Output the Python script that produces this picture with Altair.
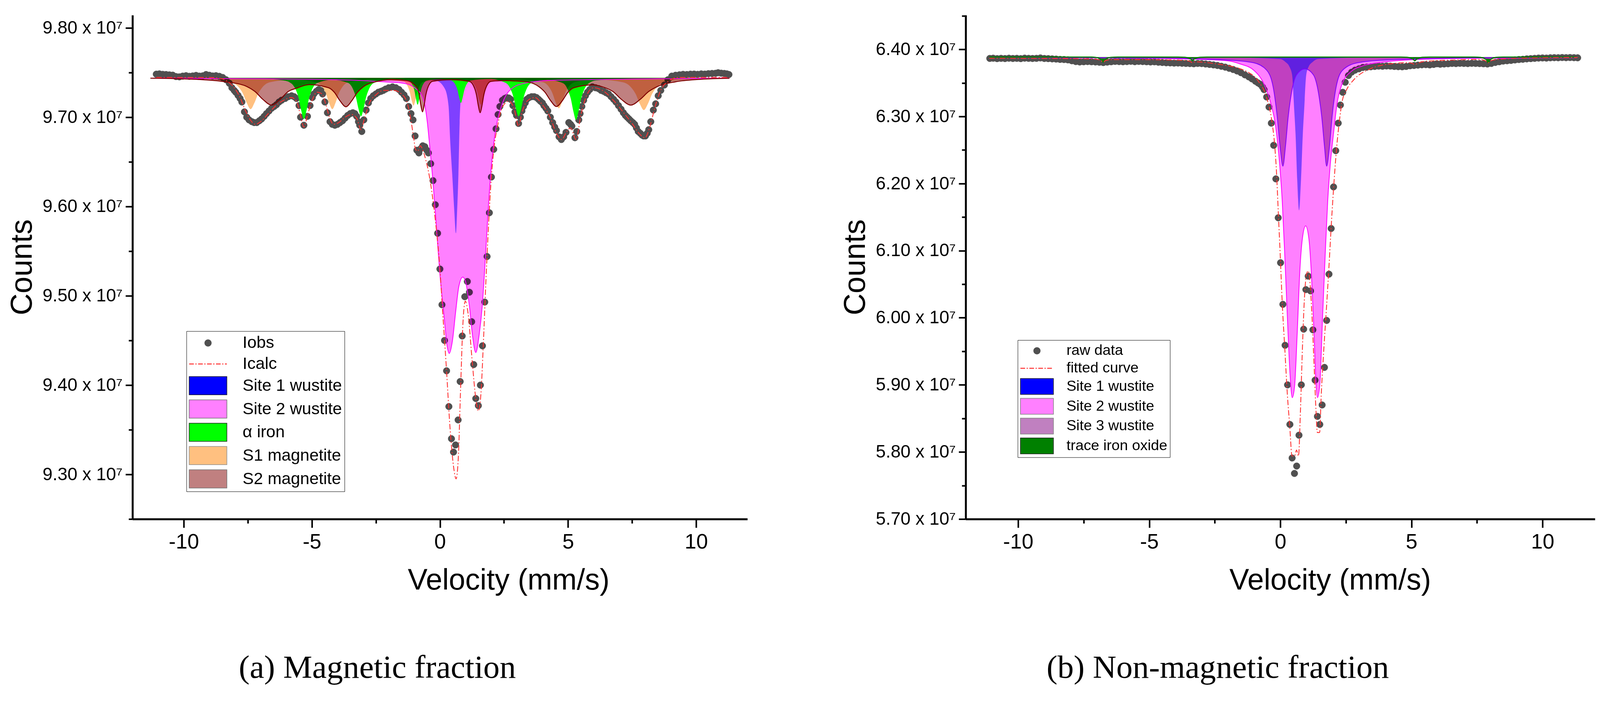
import altair as alt
import pandas as pd

# ---------------- (a) magnetic fraction ----------------
A_BASE = 9.744
A_YTICKS = [9.25, 9.30, 9.35, 9.40, 9.45, 9.50, 9.55, 9.60, 9.65, 9.70, 9.75, 9.80]
A_YDOMAIN = [9.25, 9.8143]

A_OBS = [(-11.07, 9.7482), (-10.95, 9.7485), (-10.82, 9.7480), (-10.69, 9.7478), (-10.56, 9.7474),
         (-10.43, 9.7471), (-10.30, 9.7455), (-10.17, 9.7452), (-10.04, 9.7460), (-9.91, 9.7465),
         (-9.78, 9.7458), (-9.65, 9.7462), (-9.52, 9.7468), (-9.39, 9.7460), (-9.26, 9.7463),
         (-9.13, 9.7478), (-9.00, 9.7470), (-8.87, 9.7462), (-8.74, 9.7465), (-8.61, 9.7458),
         (-8.48, 9.7445), (-8.35, 9.7420), (-8.22, 9.7380), (-8.12, 9.7330), (-8.03, 9.7300),
         (-7.97, 9.7280), (-7.88, 9.7245), (-7.80, 9.7210), (-7.73, 9.7170), (-7.63, 9.7060),
         (-7.54, 9.7000), (-7.45, 9.6970), (-7.34, 9.6950), (-7.25, 9.6940), (-7.15, 9.6940),
         (-7.05, 9.6960), (-6.96, 9.6980), (-6.86, 9.7010), (-6.77, 9.7040), (-6.67, 9.7070),
         (-6.57, 9.7100), (-6.47, 9.7120), (-6.38, 9.7140), (-6.28, 9.7170), (-6.18, 9.7190),
         (-6.04, 9.7210), (-5.92, 9.7230), (-5.79, 9.7240), (-5.69, 9.7230), (-5.60, 9.7210),
         (-5.50, 9.7130), (-5.44, 9.7000), (-5.31, 9.6910), (-5.17, 9.7010), (-5.07, 9.7130),
         (-4.98, 9.7220), (-4.92, 9.7260), (-4.82, 9.7290), (-4.73, 9.7310), (-4.65, 9.7300),
         (-4.58, 9.7260), (-4.49, 9.7170), (-4.39, 9.7050), (-4.29, 9.6950), (-4.20, 9.6920),
         (-4.10, 9.6910), (-4.00, 9.6920), (-3.90, 9.6940), (-3.80, 9.6960), (-3.70, 9.6990),
         (-3.60, 9.7020), (-3.50, 9.7040), (-3.40, 9.7050), (-3.32, 9.7040), (-3.25, 9.7010),
         (-3.18, 9.6950), (-3.13, 9.6910), (-3.05, 9.6840), (-2.97, 9.6970), (-2.88, 9.7080),
         (-2.79, 9.7160), (-2.70, 9.7210), (-2.60, 9.7240), (-2.50, 9.7260), (-2.40, 9.7280),
         (-2.30, 9.7290), (-2.21, 9.7300), (-2.12, 9.7315), (-2.00, 9.7330), (-1.85, 9.7340),
         (-1.72, 9.7330), (-1.60, 9.7310), (-1.50, 9.7280), (-1.40, 9.7250), (-1.31, 9.7210),
         (-1.22, 9.7120), (-1.13, 9.7040), (-1.05, 9.6970), (-0.97, 9.6790), (-0.90, 9.6630),
         (-0.82, 9.6600), (-0.74, 9.6650), (-0.67, 9.6680), (-0.59, 9.6670), (-0.51, 9.6630),
         (-0.45, 9.6600), (-0.36, 9.6480), (-0.27, 9.6290), (-0.18, 9.6020), (-0.09, 9.5700),
         (0.00, 9.5300), (0.08, 9.4900), (0.18, 9.4500), (0.26, 9.4160), (0.35, 9.3760),
         (0.45, 9.3400), (0.53, 9.3250), (0.61, 9.3330), (0.71, 9.3610), (0.79, 9.4040),
         (0.87, 9.4550), (0.97, 9.4990), (1.07, 9.5160), (1.15, 9.5040), (1.24, 9.4710),
         (1.32, 9.4230), (1.40, 9.3850), (1.50, 9.3770), (1.58, 9.4000), (1.66, 9.4440),
         (1.75, 9.4930), (1.84, 9.5440), (1.93, 9.5930), (2.01, 9.6330), (2.10, 9.6640),
         (2.19, 9.6870), (2.27, 9.7030), (2.34, 9.7120), (2.44, 9.7190), (2.53, 9.7210),
         (2.61, 9.7220), (2.69, 9.7215), (2.76, 9.7200), (2.85, 9.7130), (2.93, 9.7060),
         (2.99, 9.7020), (3.07, 9.6930), (3.14, 9.7000), (3.20, 9.7070), (3.26, 9.7120),
         (3.33, 9.7160), (3.39, 9.7200), (3.48, 9.7220), (3.58, 9.7230), (3.68, 9.7230),
         (3.77, 9.7220), (3.85, 9.7200), (3.92, 9.7180), (4.00, 9.7160), (4.06, 9.7130),
         (4.14, 9.7100), (4.21, 9.7070), (4.31, 9.7000), (4.40, 9.6940), (4.48, 9.6890),
         (4.55, 9.6850), (4.65, 9.6780), (4.74, 9.6750), (4.83, 9.6780), (4.92, 9.6830),
         (5.03, 9.6940), (5.10, 9.6920), (5.15, 9.6900), (5.27, 9.6770), (5.34, 9.6840),
         (5.42, 9.6970), (5.47, 9.7040), (5.54, 9.7120), (5.61, 9.7190), (5.68, 9.7240),
         (5.76, 9.7280), (5.85, 9.7310), (5.95, 9.7340), (6.07, 9.7330), (6.19, 9.7320),
         (6.29, 9.7300), (6.39, 9.7290), (6.48, 9.7275), (6.58, 9.7260), (6.68, 9.7230),
         (6.78, 9.7200), (6.87, 9.7170), (6.97, 9.7130), (7.07, 9.7090), (7.16, 9.7050),
         (7.24, 9.7020), (7.31, 9.7000), (7.38, 9.6980), (7.45, 9.6960), (7.53, 9.6940),
         (7.60, 9.6920), (7.67, 9.6880), (7.74, 9.6840), (7.82, 9.6820), (7.89, 9.6800),
         (7.95, 9.6790), (8.02, 9.6790), (8.09, 9.6820), (8.15, 9.6860), (8.23, 9.6950),
         (8.33, 9.7080), (8.42, 9.7150), (8.52, 9.7240), (8.62, 9.7300), (8.76, 9.7360),
         (8.90, 9.7420), (9.05, 9.7460), (9.20, 9.7470), (9.35, 9.7475), (9.49, 9.7480),
         (9.64, 9.7478), (9.78, 9.7482), (9.92, 9.7483), (10.06, 9.7480), (10.20, 9.7485),
         (10.34, 9.7483), (10.48, 9.7488), (10.62, 9.7490), (10.76, 9.7492), (10.86, 9.7498),
         (10.98, 9.7493), (11.10, 9.7490), (11.20, 9.7485), (11.28, 9.7478)]

A_FIT = [(-11.07, 9.7445), (-9.0, 9.7445), (-8.5, 9.7430), (-8.2, 9.7380), (-8.0, 9.7320),
         (-7.8, 9.7220), (-7.6, 9.7080), (-7.4, 9.6970), (-7.2, 9.6920), (-7.0, 9.6950),
         (-6.7, 9.7040), (-6.4, 9.7130), (-6.1, 9.7190), (-5.8, 9.7220), (-5.6, 9.7180),
         (-5.45, 9.7030), (-5.31, 9.6890), (-5.17, 9.7020), (-5.0, 9.7180), (-4.8, 9.7280),
         (-4.6, 9.7260), (-4.45, 9.7140), (-4.3, 9.6990), (-4.15, 9.6920), (-3.95, 9.6940),
         (-3.7, 9.7000), (-3.45, 9.7030), (-3.25, 9.6990), (-3.08, 9.6860), (-2.95, 9.6980),
         (-2.75, 9.7160), (-2.5, 9.7250), (-2.2, 9.7300), (-1.8, 9.7300), (-1.5, 9.7260),
         (-1.3, 9.7180), (-1.15, 9.7000), (-1.03, 9.6780), (-0.95, 9.6640), (-0.87, 9.6620),
         (-0.76, 9.6680), (-0.68, 9.6640), (-0.55, 9.6520), (-0.4, 9.6320), (-0.2, 9.5900),
         (0.0, 9.5300), (0.1, 9.4850), (0.25, 9.4200), (0.4, 9.3500), (0.55, 9.3050),
         (0.63, 9.2950), (0.72, 9.3200), (0.8, 9.3900), (0.9, 9.4700), (0.99, 9.4940),
         (1.1, 9.4800), (1.25, 9.4300), (1.4, 9.3850), (1.5, 9.3710), (1.6, 9.3900),
         (1.7, 9.4500), (1.8, 9.5200), (1.9, 9.5800), (2.0, 9.6300), (2.1, 9.6630),
         (2.25, 9.6900), (2.45, 9.7120), (2.7, 9.7180), (2.9, 9.7090), (3.07, 9.6900),
         (3.2, 9.7050), (3.4, 9.7180), (3.7, 9.7220), (4.0, 9.7140), (4.3, 9.7000),
         (4.55, 9.6820), (4.75, 9.6750), (4.95, 9.6840), (5.1, 9.6880), (5.31, 9.6750),
         (5.5, 9.7020), (5.75, 9.7260), (6.0, 9.7330), (6.4, 9.7290), (6.8, 9.7180),
         (7.2, 9.7040), (7.5, 9.6930), (7.8, 9.6810), (8.0, 9.6770), (8.2, 9.6900),
         (8.4, 9.7120), (8.6, 9.7290), (8.9, 9.7400), (9.3, 9.7445), (11.3, 9.7445)]

A_SITE1 = [(-1.5, 9.7440), (-0.15, 9.7410), (0.19, 9.7320), (0.335, 9.7130), (0.40, 9.6740),
           (0.48, 9.6360), (0.557, 9.5970), (0.625, 9.5700), (0.674, 9.5970), (0.722, 9.6360),
           (0.77, 9.6940), (0.82, 9.7210), (1.06, 9.7410), (2.5, 9.7440)]

A_SITE2 = [(-11.3, 9.7438), (-8.0, 9.7432), (-5.0, 9.7425), (-3.0, 9.7410), (-2.135, 9.7395),
           (-1.55, 9.7385), (-1.17, 9.7360), (-0.9, 9.7310), (-0.7, 9.7240), (-0.585, 9.7130),
           (-0.49, 9.6940), (-0.39, 9.6650), (-0.295, 9.6360), (-0.198, 9.6010), (-0.10, 9.5620),
           (0.0, 9.5240), (0.165, 9.4760), (0.28, 9.4440), (0.363, 9.4355), (0.495, 9.4510),
           (0.61, 9.4810), (0.742, 9.5110), (0.89, 9.5210), (0.99, 9.5170), (1.153, 9.4880),
           (1.27, 9.4560), (1.40, 9.4365), (1.53, 9.4560), (1.65, 9.4880), (1.74, 9.5260),
           (1.865, 9.5870), (1.98, 9.6360), (2.078, 9.6650), (2.175, 9.6860), (2.32, 9.7050),
           (2.514, 9.7210), (2.80, 9.7320), (3.29, 9.7380), (4.16, 9.7410), (5.61, 9.7420),
           (8.52, 9.7430), (11.3, 9.7438)]

A_IRON = [(-11.3, 9.7440), (-7.0, 9.7432),
          (-6.1, 9.7412), (-5.81, 9.7380), (-5.61, 9.7297), (-5.51, 9.7210), (-5.41, 9.7072),
          (-5.31, 9.6980), (-5.21, 9.7072), (-5.11, 9.7210), (-5.01, 9.7297), (-4.81, 9.7380),
          (-4.2, 9.7418),
          (-3.58, 9.7383), (-3.38, 9.7307), (-3.28, 9.7225), (-3.18, 9.7096), (-3.08, 9.7010),
          (-2.98, 9.7096), (-2.88, 9.7225), (-2.78, 9.7307), (-2.58, 9.7383), (-1.9, 9.7428),
          (-1.23, 9.7410), (-1.05, 9.7347), (-0.99, 9.7290), (-0.93, 9.7200), (-0.87, 9.7140),
          (-0.81, 9.7200), (-0.75, 9.7290), (-0.69, 9.7347), (-0.51, 9.7410), (0.0, 9.7428),
          (0.43, 9.7412), (0.625, 9.7353), (0.69, 9.7300), (0.755, 9.7216), (0.82, 9.7160),
          (0.885, 9.7216), (0.95, 9.7300), (1.015, 9.7353), (1.21, 9.7412), (1.95, 9.7428),
          (2.57, 9.7383), (2.77, 9.7307), (2.87, 9.7225), (2.97, 9.7096), (3.07, 9.7010),
          (3.17, 9.7096), (3.27, 9.7225), (3.37, 9.7307), (3.57, 9.7383), (4.2, 9.7418),
          (4.81, 9.7380), (5.01, 9.7294), (5.11, 9.7205), (5.21, 9.7064), (5.31, 9.6970),
          (5.41, 9.7064), (5.51, 9.7205), (5.61, 9.7294), (5.81, 9.7380), (6.1, 9.7412),
          (7.5, 9.7432), (11.3, 9.7440)]

A_MAG1 = [(-11.3, 9.7440), (-9.5, 9.7432), (-8.6, 9.7418),
          (-8.14, 9.7391), (-7.84, 9.7331), (-7.69, 9.7265), (-7.54, 9.7160), (-7.39, 9.7090),
          (-7.24, 9.7160), (-7.09, 9.7265), (-6.94, 9.7331), (-6.64, 9.7391), (-5.8, 9.7420),
          (-4.825, 9.7391), (-4.575, 9.7331), (-4.45, 9.7265), (-4.325, 9.7160), (-4.20, 9.7090),
          (-4.075, 9.7160), (-3.95, 9.7265), (-3.825, 9.7331), (-3.575, 9.7391), (-2.6, 9.7420),
          (-1.405, 9.7397), (-1.255, 9.7344), (-1.18, 9.7285), (-1.105, 9.7192), (-1.03, 9.7130),
          (-0.955, 9.7192), (-0.88, 9.7285), (-0.805, 9.7344), (-0.655, 9.7397), (0.3, 9.7420),
          (1.225, 9.7398), (1.375, 9.7347), (1.45, 9.7290), (1.525, 9.7200), (1.60, 9.7140),
          (1.675, 9.7200), (1.75, 9.7290), (1.825, 9.7347), (1.975, 9.7398), (3.1, 9.7420),
          (4.015, 9.7392), (4.265, 9.7335), (4.39, 9.7270), (4.515, 9.7168), (4.64, 9.7100),
          (4.765, 9.7168), (4.89, 9.7270), (5.015, 9.7335), (5.265, 9.7392), (6.2, 9.7420),
          (7.16, 9.7390), (7.48, 9.7328), (7.64, 9.7260), (7.80, 9.7152), (7.96, 9.7080),
          (8.12, 9.7152), (8.28, 9.7260), (8.44, 9.7328), (8.76, 9.7390), (9.7, 9.7425),
          (11.3, 9.7438)]

A_MAG2 = [(-11.3, 9.7437), (-9.6, 9.7425), (-8.6, 9.7405),
          (-8.195, 9.7390), (-7.545, 9.7345), (-7.22, 9.7288), (-6.895, 9.7196), (-6.57, 9.7135),
          (-6.245, 9.7196), (-5.92, 9.7288), (-5.595, 9.7325), (-5.1, 9.7365),
          (-4.345, 9.7330), (-4.12, 9.7279), (-3.895, 9.7182), (-3.67, 9.7117), (-3.445, 9.7182),
          (-3.22, 9.7279), (-2.995, 9.7340), (-2.545, 9.7395), (-1.9, 9.7420),
          (-1.3, 9.7410), (-0.875, 9.7322), (-0.81, 9.7250), (-0.745, 9.7136), (-0.68, 9.7060),
          (-0.615, 9.7136), (-0.55, 9.7250), (-0.485, 9.7322), (-0.29, 9.7402), (0.45, 9.7420),
          (1.15, 9.7401), (1.36, 9.7319), (1.43, 9.7245), (1.50, 9.7128), (1.57, 9.7050),
          (1.64, 9.7128), (1.71, 9.7245), (1.78, 9.7319), (1.99, 9.7401), (2.5, 9.7410),
          (3.0, 9.7405), (3.425, 9.7395), (3.875, 9.7340), (4.1, 9.7280), (4.325, 9.7184),
          (4.55, 9.7120), (4.775, 9.7184), (5.0, 9.7280), (5.225, 9.7330), (5.95, 9.7362),
          (6.4, 9.7335), (6.75, 9.7288), (7.1, 9.7196), (7.45, 9.7135), (7.8, 9.7196),
          (8.15, 9.7288), (8.5, 9.7345), (9.2, 9.7397), (10.2, 9.7425), (11.3, 9.7436)]

A_NAMES = ["Iobs", "Icalc", "Site 1 wustite", "Site 2 wustite", "\u03b1 iron", "S1 magnetite", "S2 magnetite"]
A_COLORS = ["#505050", "#FF3030", "#0000FF", "#FF80FF", "#00FF00", "#FFC080", "#C08080"]
A_STROKES = ["#505050", "transparent", "#202020", "#707070", "#202020", "#909090", "#707070"]

# ---------------- (b) non-magnetic fraction ----------------
B_BASE = 6.3885
B_YTICKS = [5.70, 5.75, 5.80, 5.85, 5.90, 5.95, 6.00, 6.05, 6.10, 6.15, 6.20, 6.25, 6.30, 6.35, 6.40, 6.45]
B_YDOMAIN = [5.70, 6.451]

B_OBS = [(-11.08, 6.3865), (-10.95, 6.3868), (-10.80, 6.3862), (-10.65, 6.3866), (-10.50, 6.3863),
         (-10.35, 6.3868), (-10.20, 6.3864), (-10.05, 6.3866), (-9.90, 6.3862), (-9.75, 6.3869),
         (-9.60, 6.3866), (-9.45, 6.3864), (-9.30, 6.3866), (-9.15, 6.3872), (-9.00, 6.3864),
         (-8.85, 6.3862), (-8.70, 6.3858), (-8.55, 6.3855), (-8.40, 6.3850), (-8.25, 6.3848),
         (-8.10, 6.3843), (-7.95, 6.3830), (-7.80, 6.3818), (-7.65, 6.3812), (-7.50, 6.3815),
         (-7.35, 6.3818), (-7.20, 6.3815), (-7.05, 6.3812), (-6.90, 6.3808), (-6.75, 6.3803),
         (-6.60, 6.3810), (-6.45, 6.3815), (-6.30, 6.3820), (-6.15, 6.3818), (-6.00, 6.3815),
         (-5.85, 6.3818), (-5.70, 6.3822), (-5.55, 6.3816), (-5.40, 6.3820), (-5.25, 6.3818),
         (-5.10, 6.3815), (-4.95, 6.3812), (-4.80, 6.3814), (-4.65, 6.3808), (-4.50, 6.3804),
         (-4.35, 6.3800), (-4.20, 6.3798), (-4.05, 6.3795), (-3.90, 6.3796), (-3.75, 6.3793),
         (-3.60, 6.3790), (-3.45, 6.3788), (-3.30, 6.3785), (-3.15, 6.3790), (-3.00, 6.3788),
         (-2.85, 6.3782), (-2.70, 6.3775), (-2.55, 6.3768), (-2.40, 6.3760), (-2.25, 6.3748),
         (-2.10, 6.3735), (-1.95, 6.3718), (-1.80, 6.3700), (-1.65, 6.3678), (-1.50, 6.3652),
         (-1.35, 6.3620), (-1.20, 6.3590), (-1.08, 6.3560), (-0.95, 6.3525), (-0.85, 6.3500),
         (-0.768, 6.3480), (-0.679, 6.3440), (-0.619, 6.3400), (-0.520, 6.3290), (-0.431, 6.3140),
         (-0.342, 6.2900), (-0.253, 6.2570), (-0.169, 6.2070), (-0.079, 6.1490), (0.010, 6.0820),
         (0.099, 6.0200), (0.183, 5.9590), (0.277, 5.9000), (0.366, 5.8410), (0.451, 5.7910),
         (0.540, 5.7680), (0.624, 5.7790), (0.713, 5.8250), (0.802, 5.9000), (0.891, 5.9830),
         (0.976, 6.0420), (1.065, 6.0620), (1.154, 6.0400), (1.243, 5.9820), (1.327, 5.9070),
         (1.416, 5.8530), (1.506, 5.8410), (1.595, 5.8700), (1.684, 5.9260), (1.768, 5.9960),
         (1.857, 6.0650), (1.941, 6.1330), (2.031, 6.1950), (2.115, 6.2490), (2.209, 6.2900),
         (2.293, 6.3170), (2.382, 6.3360), (2.476, 6.3510), (2.60, 6.3610), (2.72, 6.3660),
         (2.85, 6.3690), (3.00, 6.3710), (3.15, 6.3730), (3.30, 6.3735), (3.45, 6.3740),
         (3.60, 6.3745), (3.75, 6.3750), (3.90, 6.3748), (4.05, 6.3752), (4.20, 6.3750),
         (4.35, 6.3745), (4.50, 6.3742), (4.65, 6.3740), (4.80, 6.3745), (4.95, 6.3755),
         (5.10, 6.3760), (5.25, 6.3765), (5.40, 6.3770), (5.55, 6.3772), (5.70, 6.3768),
         (5.85, 6.3775), (5.97, 6.3785), (6.10, 6.3778), (6.25, 6.3782), (6.40, 6.3785),
         (6.55, 6.3790), (6.70, 6.3788), (6.85, 6.3792), (7.00, 6.3790), (7.15, 6.3788),
         (7.30, 6.3792), (7.45, 6.3790), (7.60, 6.3788), (7.75, 6.3785), (7.90, 6.3782),
         (8.05, 6.3790), (8.20, 6.3805), (8.35, 6.3815), (8.50, 6.3825), (8.65, 6.3830),
         (8.80, 6.3835), (8.95, 6.3842), (9.10, 6.3848), (9.25, 6.3852), (9.40, 6.3858),
         (9.55, 6.3862), (9.70, 6.3866), (9.85, 6.3870), (10.00, 6.3872), (10.15, 6.3870),
         (10.30, 6.3874), (10.45, 6.3876), (10.60, 6.3875), (10.75, 6.3878), (10.90, 6.3876),
         (11.05, 6.3878), (11.20, 6.3876), (11.34, 6.3874)]

B_FIT = [(-11.1, 6.3868), (-9.0, 6.3865), (-8.0, 6.3862), (-7.3, 6.3858), (-7.0, 6.3850),
         (-6.85, 6.3835), (-6.76, 6.3810), (-6.65, 6.3836), (-6.34, 6.3848), (-5.5, 6.3848),
         (-4.5, 6.3843), (-3.69, 6.3836), (-3.45, 6.3822), (-3.35, 6.3800), (-3.25, 6.3815),
         (-2.93, 6.3808), (-2.55, 6.3790), (-2.2, 6.3770), (-1.79, 6.3740), (-1.45, 6.3700),
         (-1.19, 6.3650), (-0.95, 6.3580), (-0.81, 6.3510), (-0.52, 6.3280), (-0.322, 6.2930),
         (-0.223, 6.2610), (-0.149, 6.2200), (-0.074, 6.1550), (0.0, 6.0910), (0.074, 6.0220),
         (0.173, 5.9530), (0.272, 5.8840), (0.361, 5.8380), (0.446, 5.7940), (0.545, 5.7940),
         (0.619, 5.8030), (0.693, 5.7940), (0.768, 5.8610), (0.842, 5.9530), (0.916, 6.0260),
         (0.991, 6.0630), (1.065, 6.0700), (1.139, 6.0490), (1.213, 5.9990), (1.288, 5.9300),
         (1.362, 5.8610), (1.412, 5.8290), (1.50, 5.8290), (1.56, 5.8840), (1.659, 5.9530),
         (1.758, 6.0130), (1.857, 6.0770), (1.956, 6.1460), (2.055, 6.2060), (2.154, 6.2560),
         (2.253, 6.2930), (2.352, 6.3210), (2.53, 6.3400), (2.81, 6.3550), (3.43, 6.3710),
         (4.12, 6.3780), (4.8, 6.3800), (5.0, 6.3795), (5.13, 6.3775), (5.26, 6.3795),
         (5.49, 6.3820), (6.52, 6.3840), (7.55, 6.3850), (7.8, 6.3835), (7.93, 6.3800),
         (8.06, 6.3835), (8.31, 6.3850), (9.27, 6.3870), (11.34, 6.3880)]

B_SITE1 = [(-2.0, 6.3882), (0.0, 6.3855), (0.2, 6.3810), (0.35, 6.3740), (0.45, 6.3620),
           (0.53, 6.3100), (0.58, 6.2750), (0.645, 6.2060), (0.715, 6.1600), (0.79, 6.2060),
           (0.86, 6.2750), (0.91, 6.3100), (0.99, 6.3620), (1.08, 6.3740), (1.23, 6.3810),
           (1.43, 6.3855), (3.4, 6.3882)]

B_SITE2 = [(-11.1, 6.3880), (-7.0, 6.3873), (-4.0, 6.3860), (-3.0, 6.3850), (-2.006, 6.3830),
           (-1.51, 6.3780), (-1.015, 6.3690), (-0.619, 6.3480), (-0.372, 6.3210), (-0.173, 6.2840),
           (-0.025, 6.2290), (0.074, 6.1740), (0.173, 6.0910), (0.272, 5.9990), (0.371, 5.9160),
           (0.456, 5.8810), (0.545, 5.8980), (0.644, 5.9760), (0.743, 6.0680), (0.842, 6.1180),
           (0.966, 6.1370), (1.09, 6.1180), (1.189, 6.0630), (1.288, 5.9760), (1.362, 5.9020),
           (1.417, 5.8810), (1.51, 5.9020), (1.61, 5.9990), (1.709, 6.0910), (1.808, 6.1740),
           (1.907, 6.2290), (2.031, 6.2750), (2.154, 6.3160), (2.352, 6.3480), (2.70, 6.3670),
           (3.195, 6.3760), (3.937, 6.3810), (5.0, 6.3845), (7.0, 6.3865), (11.3, 6.3878)]

B_SITE3 = [(-11.1, 6.3882), (-5.0, 6.3872), (-2.006, 6.3840), (-1.015, 6.3800), (-0.52, 6.3690),
           (-0.273, 6.3440), (-0.124, 6.3020), (0.0, 6.2520), (0.099, 6.2260), (0.198, 6.2560),
           (0.297, 6.2980), (0.421, 6.3340), (0.619, 6.3620), (0.936, 6.3710), (1.263, 6.3620),
           (1.461, 6.3340), (1.585, 6.2980), (1.684, 6.2560), (1.768, 6.2260), (1.867, 6.2520),
           (1.981, 6.3020), (2.13, 6.3440), (2.377, 6.3690), (2.947, 6.3800), (3.937, 6.3840),
           (8.0, 6.3876), (11.3, 6.3882)]

B_TRACE = [(-11.1, 6.3885), (-7.3, 6.3885),
           (-7.05, 6.3881), (-6.9, 6.3865), (-6.82, 6.3845), (-6.76, 6.3810), (-6.70, 6.3845),
           (-6.62, 6.3865), (-6.47, 6.3881), (-6.2, 6.3885),
           (-3.9, 6.3885), (-3.64, 6.3882), (-3.49, 6.3870), (-3.41, 6.3855), (-3.35, 6.3834),
           (-3.29, 6.3855), (-3.21, 6.3870), (-3.06, 6.3882), (-2.8, 6.3885),
           (4.6, 6.3885), (4.84, 6.3882), (4.99, 6.3868), (5.07, 6.3852), (5.13, 6.3830),
           (5.19, 6.3852), (5.27, 6.3868), (5.42, 6.3882), (5.7, 6.3885),
           (7.4, 6.3885), (7.64, 6.3880), (7.79, 6.3862), (7.87, 6.3840), (7.93, 6.3800),
           (7.99, 6.3840), (8.07, 6.3862), (8.22, 6.3880), (8.5, 6.3885), (11.3, 6.3885)]

B_NAMES = ["raw data", "fitted curve", "Site 1 wustite", "Site 2 wustite", "Site 3 wustite", "trace iron oxide"]
B_COLORS = ["#505050", "#FF3030", "#0000FF", "#FF80FF", "#C080C0", "#008000"]
B_STROKES = ["#505050", "transparent", "#202020", "#808080", "#808080", "#202020"]

X_TICKS = [-10, -7.5, -5, -2.5, 0, 2.5, 5, 7.5, 10]

SANS = "Liberation Sans, Arial, sans-serif"
SERIF = "Liberation Serif, Times New Roman, serif"

X_MAJOR = "datum.value % 5 == 0"
Y_MAJOR = "round(datum.value * 100) % 10 == 0"


def frame(pairs, base=None):
    df = pd.DataFrame(pairs, columns=["v", "c"])
    if base is not None:
        df["b"] = base
    return df


# legend glyphs, in units of the symbol radius
def rect_path(hw):
    return f"M{-hw:.3f},-1H{hw:.3f}V1H{-hw:.3f}Z"


def dot_path(r):
    return f"M{-r:.3f},0A{r:.3f},{r:.3f},0,1,0,{r:.3f},0A{r:.3f},{r:.3f},0,1,0,{-r:.3f},0Z"


def dashdot_path(hw, t, dash, dot, gap):
    parts, x, i = [], -hw, 0
    seq = [dash, gap, dot, gap]
    while x < hw - 1e-6:
        end = min(x + seq[i % 4], hw)
        if i % 2 == 0:
            parts.append(f"M{x:.3f},{-t:.3f}H{end:.3f}V{t:.3f}H{x:.3f}Z")
        x, i = end, i + 1
    return "".join(parts)


def panel(obs, fit, areas, outlines, names, colors, strokes, ydomain, yticks,
          sym, leg, caption, title_x):
    x = alt.X("v:Q", scale=alt.Scale(domain=[-12, 12], nice=False, zero=False),
              axis=alt.Axis(values=X_TICKS, title="Velocity (mm/s)", titleX=title_x,
                            labelExpr=X_MAJOR + " ? (datum.value < 0 ? '-' : '') + abs(datum.value) : ''",
                            labelFont=SANS, labelFontSize=54, labelPadding=10, labelFlush=False,
                            titleFont=SANS, titleFontSize=76, titleFontWeight="normal", titlePadding=35,
                            domainWidth=5, tickWidth=4, grid=False,
                            tickSize={"condition": {"test": X_MAJOR, "value": 22}, "value": 11},
                            domainColor="black", tickColor="black", labelColor="black", titleColor="black"))
    y = alt.Y("c:Q", scale=alt.Scale(domain=ydomain, nice=False, zero=False),
              axis=alt.Axis(values=yticks, title="Counts",
                            labelExpr=Y_MAJOR + " ? format(datum.value, '.2f') + ' x 10\u2077' : ''",
                            labelFont=SANS, labelFontSize=46, labelPadding=8, labelOverlap=False,
                            labelLimit=600,
                            titleFont=SANS, titleFontSize=78, titleFontWeight="normal", titlePadding=44,
                            domainWidth=5, tickWidth=4, grid=False,
                            tickSize={"condition": {"test": Y_MAJOR, "value": 18}, "value": 10},
                            domainColor="black", tickColor="black", labelColor="black", titleColor="black"))

    r = sym["r"]
    shapes = [dot_path(8.5 / r), dashdot_path(sym["hw"], 1.2 / r, 12 / r, 3 / r, 4 / r)]
    shapes += [rect_path(sym["hw"])] * (len(names) - 2)
    legend = alt.Legend(orient="none", legendX=leg["x"], legendY=leg["y"], title=None,
                        direction="vertical", symbolSize=sym["size"], symbolOffset=leg["symoff"],
                        labelOffset=leg["laboff"], labelFont=SANS, labelFontSize=leg["font"],
                        labelColor="black", labelLimit=1000, rowPadding=leg["rowpad"], padding=6,
                        strokeColor="black", fillColor="white", symbolStrokeWidth=1.5)

    obs_df = frame(obs)
    obs_df["s"] = names[0]
    layers = [
        alt.Chart(obs_df).mark_point(filled=True, opacity=1, size=sym["size"], strokeWidth=1).encode(
            x=x, y=y,
            color=alt.Color("s:N", scale=alt.Scale(domain=names, range=colors), legend=legend),
            shape=alt.Shape("s:N", scale=alt.Scale(domain=names, range=shapes), legend=legend),
            stroke=alt.Stroke("s:N", scale=alt.Scale(domain=names, range=strokes), legend=legend),
        )
    ]
    for pairs, base, style in areas:
        layers.append(alt.Chart(frame(pairs, base)).mark_area(interpolate="monotone", **style).encode(
            x=x, y=y, y2=alt.Y2("b:Q")))
    for pairs, color, width in outlines:
        layers.append(alt.Chart(frame(pairs)).mark_line(interpolate="monotone", color=color,
                                                       strokeWidth=width).encode(x=x, y=y))
    layers.append(alt.Chart(frame(fit)).mark_line(interpolate="monotone", color="#FF3030", strokeWidth=2.2,
                                                  strokeDash=[14, 5, 3, 5]).encode(x=x, y=y))
    return alt.layer(*layers).properties(
        width=sym["w"], height=1298,
        title=alt.TitleParams(text=caption, orient="bottom", anchor="middle", frame="bounds", font=SERIF,
                              fontSize=84, fontWeight="normal", color="black", offset=147),
    )


left = panel(
    A_OBS, A_FIT,
    [(A_SITE2, A_BASE, {"color": "#FF80FF", "blend": "multiply"}),
     (A_SITE1, A_BASE, {"color": "#0000FF", "opacity": 0.5}),
     (A_IRON, A_BASE, {"color": "#00FF00"}),
     (A_MAG1, A_BASE, {"color": "#FFC080", "blend": "multiply"}),
     (A_MAG2, A_BASE, {"color": "#C08080", "blend": "multiply"})],
    [(A_SITE2, "#FF00FF", 2), (A_MAG2, "#800000", 2.5)],
    A_NAMES, A_COLORS, A_STROKES, A_YDOMAIN, A_YTICKS,
    {"r": 23.5, "size": 2209, "hw": 48.5 / 23.5, "w": 1583},
    {"x": 139, "y": 814, "symoff": 25, "laboff": 64.5, "font": 43, "rowpad": 7},
    "(a) Magnetic fraction", 968,
)

right = panel(
    B_OBS, B_FIT,
    [(B_SITE2, B_BASE, {"color": "#FF80FF", "blend": "multiply"}),
     (B_SITE3, B_BASE, {"color": "#C080C0", "blend": "multiply"}),
     (B_SITE1, B_BASE, {"color": "#0000FF", "opacity": 0.5}),
     (B_TRACE, B_BASE, {"color": "#008000"})],
    [(B_SITE2, "#FF00FF", 2), (B_SITE3, "#8000FF", 2), (B_TRACE, "#008000", 3)],
    B_NAMES, B_COLORS, B_STROKES, B_YDOMAIN, B_YTICKS,
    {"r": 20.5, "size": 1681, "hw": 42.5 / 20.5, "w": 1620},
    {"x": 134, "y": 837, "symoff": 22, "laboff": 54.5, "font": 38, "rowpad": 4},
    "(b) Non-magnetic fraction", 938,
)

chart = alt.hconcat(left, right, spacing=240).resolve_scale(
    color="independent", shape="independent", stroke="independent"
).properties(
    padding={"left": 11, "top": 4, "right": 5, "bottom": 5},
    background="white",
).configure_view(strokeWidth=0)

chart.save("out.html", embed_options={"renderer": "svg", "actions": False})
